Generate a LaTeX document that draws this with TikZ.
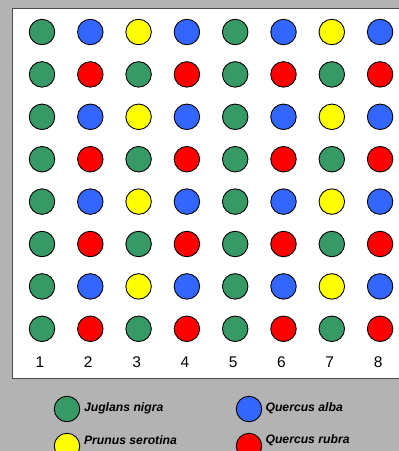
\documentclass[tikz,border=0pt]{standalone}
\usepackage{fontspec}
\setmainfont{Liberation Sans}
\definecolor{bgray}{RGB}{179,179,179}
\definecolor{jn}{RGB}{55,153,102}
\definecolor{qa}{RGB}{51,102,255}
\definecolor{ps}{RGB}{255,255,0}
\definecolor{qr}{RGB}{255,0,0}
\begin{document}
\begin{tikzpicture}[x=1pt,y=-1pt,
  tree/.style={circle,draw=black,line width=0.9pt,minimum size=25.5pt,inner sep=0pt},
  num/.style={font=\fontsize{15.5}{15.5}\selectfont,anchor=center},
  leg/.style={font=\fontsize{12.2}{12.2}\selectfont\bfseries\itshape,anchor=west}]
\useasboundingbox (0,0) rectangle (399,451);
\fill[bgray] (0,0) rectangle (399,451);
\draw[fill=white,draw=black!70,line width=1pt] (12.5,8.5) rectangle (400,378);
\foreach \r in {1,...,8}{
  \foreach \c in {1,...,8}{
    \pgfmathsetmacro{\cx}{42+(\c-1)*48.3}
    \pgfmathsetmacro{\cy}{32+(\r-1)*42.4}
    \pgfmathtruncatemacro{\ro}{mod(\r,2)}
    \pgfmathtruncatemacro{\co}{mod(\c,4)}
    \ifnum\ro=1
      \ifnum\co=1 \def\col{jn}\else\ifnum\co=3 \def\col{ps}\else\def\col{qa}\fi\fi
    \else
      \ifodd\c \def\col{jn}\else\def\col{qr}\fi
    \fi
    \node[tree,fill=\col] (t\r-\c) at (\cx,\cy) {};
  }
}
\foreach \c in {1,...,8}{
  \pgfmathsetmacro{\cx}{40+(\c-1)*48.3}
  \node[num] (n\c) at (\cx,362) {\c};
}
\node[tree,fill=jn] (l1) at (67,409) {};
\node[leg] (l1t) at (80.5,408) {Juglans nigra};
\node[tree,fill=ps] (l2) at (67,446) {};
\node[leg] (l2t) at (80.5,440) {Prunus serotina};
\node[tree,fill=qa] (l3) at (249,409) {};
\node[leg] (l3t) at (262,408) {Quercus alba};
\node[tree,fill=qr] (l4) at (249,446) {};
\node[leg] (l4t) at (262,440) {Quercus rubra};
\end{tikzpicture}
\end{document}
